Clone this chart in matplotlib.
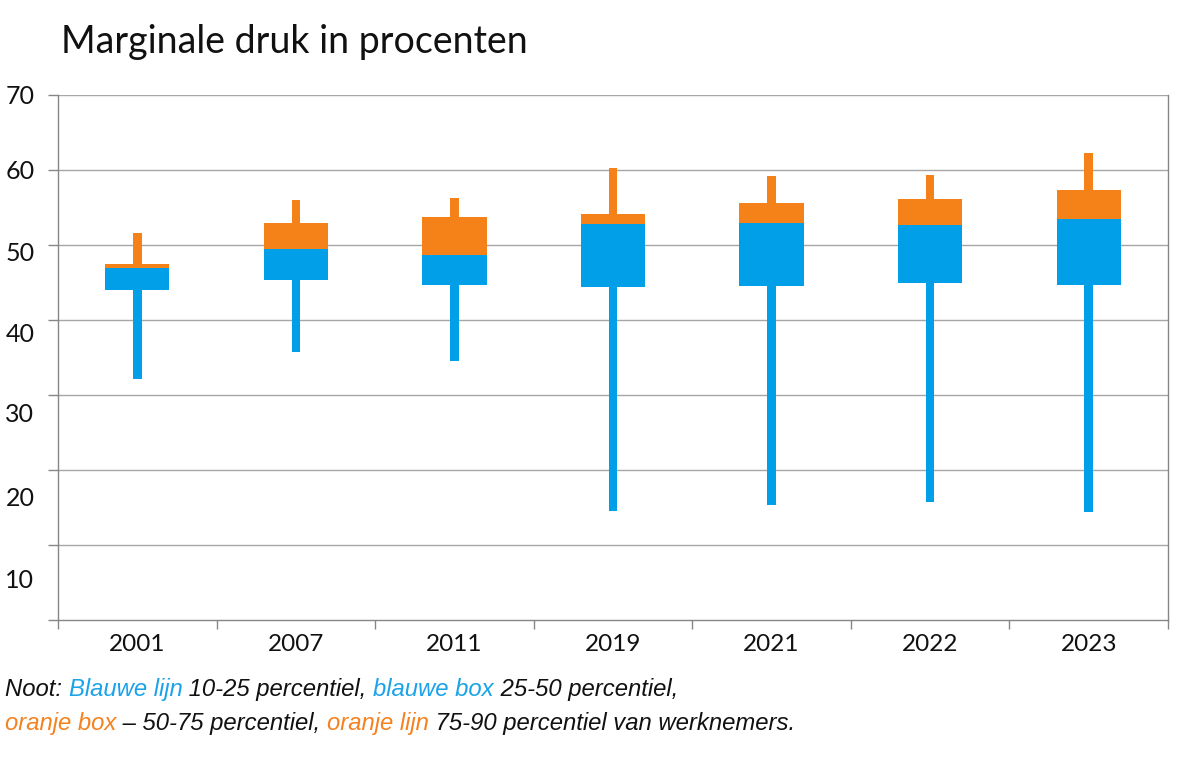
import matplotlib
matplotlib.use("Agg")
import matplotlib.pyplot as plt
import numpy as np

# ---- data ----
years = ["2001", "2007", "2011", "2019", "2021", "2022", "2023"]
p10 = [32.2, 35.8, 34.5, 14.5, 15.3, 15.7, 14.4]
p25 = [44.0, 45.3, 44.7, 44.4, 44.6, 45.0, 44.7]
p50 = [46.9, 49.5, 48.7, 52.8, 52.9, 52.7, 53.5]
p75 = [47.5, 53.0, 53.8, 54.1, 55.6, 56.1, 57.3]
p90 = [51.6, 56.0, 56.3, 60.3, 59.2, 59.4, 62.3]

ytick_values = [0, 10, 20, 30, 40, 50, 60, 70]
ylabel_texts = ["70", "60", "50", "40", "30", "20", "10"]
ylabel_pos = [70, 60.1, 49.1, 38.4, 27.6, 16.5, 5.6]  # as placed in the reference

title = "Marginale druk in procenten"
note_line1 = [("Noot: ", "black"), ("Blauwe lijn", "blue"), (" 10-25 percentiel, ", "black"),
              ("blauwe box", "blue"), (" 25-50 percentiel,", "black")]
note_line2 = [("oranje box", "orange"), (" \u2013 50-75 percentiel, ", "black"),
              ("oranje lijn", "orange"), (" 75-90 percentiel van werknemers.", "black")]

BLUE = "#009FE8"
ORANGE = "#F58218"
NOTE_COLORS = {"black": "#111111", "blue": "#1AA3E8", "orange": "#F58220"}
AXCOL = "#868686"
GRIDCOL = "#a6a6a6"

W, H = 1184, 757
fig = plt.figure(figsize=(W / 100, H / 100), dpi=100)
ax = fig.add_axes([58 / W, 1 - 620 / H, (1168 - 58) / W, (620 - 95) / H])

x = np.arange(len(years))
p10a, p25a, p50a, p75a, p90a = map(np.array, (p10, p25, p50, p75, p90))
wb, ww = 0.405, 0.054
ax.bar(x, p25a - p10a, bottom=p10a, width=ww, color=BLUE, zorder=3)
ax.bar(x, p50a - p25a, bottom=p25a, width=wb, color=BLUE, zorder=3)
ax.bar(x, p75a - p50a, bottom=p50a, width=wb, color=ORANGE, zorder=3)
ax.bar(x, p90a - p75a, bottom=p75a, width=ww, color=ORANGE, zorder=3)

ax.set_xlim(-0.5, len(years) - 0.5)
ax.set_ylim(0, 70)

# gridlines
for v in ytick_values[1:]:
    ax.axhline(v, color=GRIDCOL, lw=1.0, zorder=1)

for s in ["left", "right", "bottom"]:
    ax.spines[s].set_color(AXCOL)
    ax.spines[s].set_linewidth(1.0)
ax.spines["top"].set_visible(False)

tickfont = "Lato"
# y ticks: marks at gridlines, labels where the reference put them
ax.yaxis.remove_overlapping_locs = False
ax.set_yticks(ytick_values)
ax.set_yticklabels([])
ax.tick_params(axis="y", which="major", length=7.2, width=1.0, color=AXCOL, direction="out")
ax.set_yticks(ylabel_pos, minor=True)
ax.set_yticklabels(ylabel_texts, minor=True, fontsize=18, family=tickfont, color="#111111")
ax.tick_params(axis="y", which="minor", length=0, pad=17)

# x ticks: marks at category boundaries, labels centered
ax.set_xticks(np.arange(-0.5, len(years), 1.0))
ax.set_xticklabels([])
ax.tick_params(axis="x", which="major", length=6.5, width=1.0, color=AXCOL, direction="out")
ax.set_xticks(x, minor=True)
ax.set_xticklabels(years, minor=True, fontsize=17.5, family=tickfont, color="#111111")
ax.tick_params(axis="x", which="minor", length=0, pad=10)

fig.text(61 / W, 1 - 53 / H, title, fontsize=27, family="Lato", color="#111111",
         ha="left", va="baseline")

# multi-coloured italic note
renderer = fig.canvas.get_renderer()
notefont = dict(fontsize=17.2, family="Liberation Sans",
                style="italic", va="baseline", ha="left")


def text_width(s):
    t1 = fig.text(0, 0, s + "|", **notefont)
    t2 = fig.text(0, 0, "|", **notefont)
    w = t1.get_window_extent(renderer).width - t2.get_window_extent(renderer).width
    t1.remove()
    t2.remove()
    return w


def draw_line(parts, x0, ybase):
    xp = x0
    for s, c in parts:
        fig.text(xp / W, 1 - ybase / H, s, color=NOTE_COLORS[c], **notefont)
        xp += text_width(s)


draw_line(note_line1, 5, 696)
draw_line(note_line2, 5, 730)

fig.savefig("out.png", dpi=100)
